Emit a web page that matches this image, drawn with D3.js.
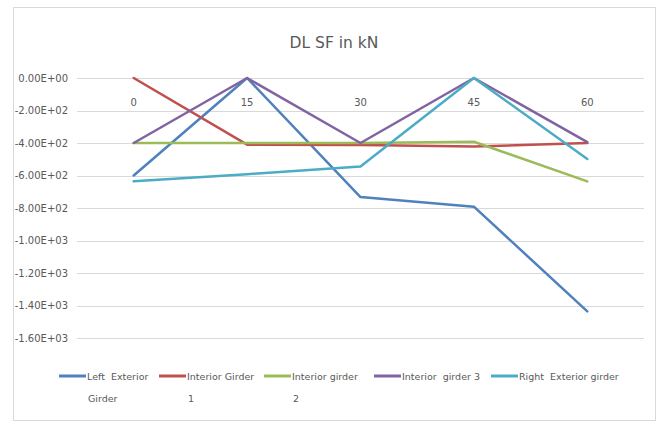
<!DOCTYPE html>
<html>
<head>
<meta charset="utf-8">
<script src="https://cdn.jsdelivr.net/npm/d3@7/dist/d3.min.js"></script>
<style>
  body { margin: 0; background: #fff; }
  svg { display: block; font-family: "DejaVu Sans", "Open Sans", sans-serif; }
</style>
</head>
<body>
<svg id="chart" width="662" height="423"></svg>
<script>
// Stations along the span
const categories = ["0", "15", "30", "45", "60"];

// Dead-load shear force per girder (kN)
const leftExterior   = [-600, 0, -733, -792, -1436];
const interior1      = [0, -410, -412, -422, -400];
const interior2      = [-400, -400, -400, -392, -636];
const interior3      = [-400, 0, -400, 0, -395];
const rightExterior  = [-636, -592, -545, 0, -498];

const seriesNames  = ["Left  Exterior Girder", "Interior Girder 1", "Interior girder 2", "Interior  girder 3", "Right  Exterior girder"];
const legendLines  = [["Left  Exterior", "Girder"], ["Interior Girder", "1"], ["Interior girder", "2"], ["Interior  girder 3"], ["Right  Exterior girder"]];
const seriesColors = ["#4f81bd", "#c0504d", "#9bbb59", "#8064a2", "#4bacc6"];

const yTicks = [0, -200, -400, -600, -800, -1000, -1200, -1400, -1600];

const allSeries = [leftExterior, interior1, interior2, interior3, rightExterior];

const svg = d3.select("#chart");
const plot = { left: 77, right: 644, top: 78, bottom: 338 };

// Chart frame
svg.append("rect")
  .attr("x", 13.5).attr("y", 7.5)
  .attr("width", 642).attr("height", 413)
  .attr("fill", "#fff").attr("stroke", "#d9d9d9");

// Title
svg.append("text")
  .attr("x", 334).attr("y", 48)
  .attr("text-anchor", "middle")
  .attr("font-size", 15.5)
  .attr("fill", "#595959")
  .text("DL SF in kN");

const x = d3.scaleBand().domain(categories).range([plot.left, plot.right]);
const y = d3.scaleLinear().domain([0, -1600]).range([plot.top, plot.bottom]);

const fmtE = v => {
  if (v === 0) return "0.00E+00";
  const s = Math.abs(v).toExponential(2).toUpperCase(); // e.g. 2.00E+2
  const [m, e] = s.split("E");
  const sign = e[0];
  const digits = e.slice(1).padStart(2, "0");
  return (v < 0 ? "-" : "") + m + "E" + sign + digits;
};

// Horizontal gridlines
svg.append("g")
  .selectAll("line")
  .data(yTicks)
  .join("line")
  .attr("x1", plot.left).attr("x2", plot.right)
  .attr("y1", d => Math.round(y(d)) + 0.5)
  .attr("y2", d => Math.round(y(d)) + 0.5)
  .attr("stroke", "#d9d9d9").attr("stroke-width", 1);

// Value axis
const yAxis = svg.append("g")
  .attr("transform", `translate(${plot.left - 9},0)`)
  .call(d3.axisLeft(y).tickValues(yTicks).tickFormat(fmtE).tickSize(0).tickPadding(0));
yAxis.select(".domain").remove();
yAxis.selectAll("text").attr("font-size", 10).attr("fill", "#595959")
  .attr("font-family", "\"DejaVu Sans\", sans-serif");

// Category axis, labels sit just under the zero line
const xAxis = svg.append("g")
  .attr("transform", `translate(0,${y(0)})`)
  .call(d3.axisBottom(x).tickSize(0).tickPadding(21));
xAxis.select(".domain").remove();
xAxis.selectAll("text").attr("font-size", 10).attr("fill", "#595959")
  .attr("font-family", "\"DejaVu Sans\", sans-serif");

// Series lines
const line = d3.line()
  .x((d, i) => x(categories[i]) + x.bandwidth() / 2)
  .y(d => y(d));

svg.append("g")
  .selectAll("path")
  .data(allSeries)
  .join("path")
  .attr("d", d => line(d))
  .attr("fill", "none")
  .attr("stroke", (d, i) => seriesColors[i])
  .attr("stroke-width", 2.5)
  .attr("stroke-linejoin", "round")
  .attr("stroke-linecap", "round");

// Legend
const legendX = [59, 159, 264, 374, 491];
const legend = svg.append("g").attr("font-size", 9.5).attr("fill", "#595959");
const items = legend.selectAll("g")
  .data(seriesNames)
  .join("g")
  .attr("transform", (d, i) => `translate(${legendX[i]},376)`);
items.append("line")
  .attr("x1", 0).attr("x2", 27).attr("y1", 0).attr("y2", 0)
  .attr("stroke", (d, i) => seriesColors[i])
  .attr("stroke-width", 3);
items.append("text")
  .attr("x", 28).attr("y", 4)
  .each(function (d, i) {
    const t = d3.select(this);
    legendLines[i].forEach((ln, k) => {
      t.append("tspan")
        .attr("x", k === 0 ? 28 : 29)
        .attr("dy", k === 0 ? 0 : 22)
        .attr("xml:space", "preserve")
        .text(ln);
    });
  });
</script>
</body>
</html>
